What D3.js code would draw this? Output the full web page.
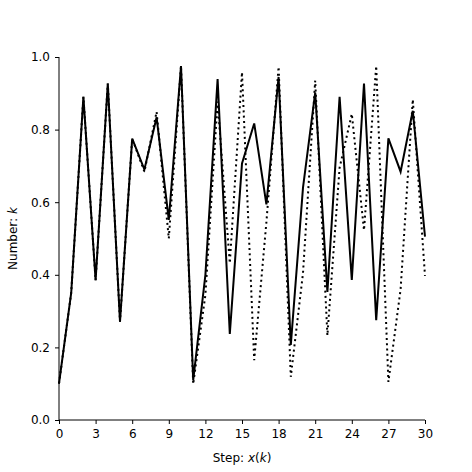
<!DOCTYPE html>
<html>
<head>
<meta charset="utf-8">
<script src="https://cdn.jsdelivr.net/npm/d3@7"></script>
<style>
  body { margin: 0; background: #fff; }
  svg { display: block; }
  text { font-family: "DejaVu Sans", sans-serif; fill: #000; }
</style>
</head>
<body>
<div id="chart"></div>
<script>
// step index 0..30
var steps = d3.range(0, 31);

// value
var solidSeries = [0.10, 0.35, 0.89, 0.385, 0.927, 0.271, 0.775, 0.69, 0.834, 0.551,
                   0.975, 0.11, 0.40, 0.939, 0.237, 0.707, 0.817, 0.594, 0.945, 0.207,
                   0.64, 0.902, 0.353, 0.89, 0.386, 0.927, 0.275, 0.776, 0.684, 0.852,
                   0.505];

// value
var dottedSeries = [0.10, 0.35, 0.89, 0.385, 0.927, 0.271, 0.775, 0.684, 0.849, 0.50,
                    0.975, 0.099, 0.345, 0.877, 0.432, 0.958, 0.165, 0.545, 0.973, 0.119,
                    0.405, 0.935, 0.233, 0.695, 0.843, 0.523, 0.975, 0.105, 0.36, 0.883,
                    0.397];

var xTicks = [0, 3, 6, 9, 12, 15, 18, 21, 24, 27, 30];
var yTicks = [0.0, 0.2, 0.4, 0.6, 0.8, 1.0];

var W = 472, H = 472;
var margin = {left: 59, right: 47, top: 57, bottom: 52};

var svg = d3.select("#chart").append("svg")
    .attr("width", W)
    .attr("height", H);

var x = d3.scaleLinear()
    .domain([0, 30])
    .range([margin.left, W - margin.right]);

var y = d3.scaleLinear()
    .domain([0, 1])
    .range([H - margin.bottom, margin.top]);

// axes, matplotlib style (only left and bottom spines)
var xAxis = svg.append("g")
    .attr("transform", "translate(0," + (H - margin.bottom) + ")")
    .call(d3.axisBottom(x).tickValues(xTicks).tickSize(4).tickPadding(5)
          .tickFormat(d3.format("d")));

var yAxis = svg.append("g")
    .attr("transform", "translate(" + margin.left + ",0)")
    .call(d3.axisLeft(y).tickValues(yTicks).tickSize(4).tickPadding(5)
          .tickFormat(d3.format(".1f")));

[xAxis, yAxis].forEach(function(g) {
    g.selectAll("path.domain").attr("stroke", "#000").attr("stroke-width", 1);
    g.selectAll(".tick line").attr("stroke", "#000").attr("stroke-width", 1);
    g.selectAll(".tick text").style("font-size", "12px")
        .style("font-family", "'DejaVu Sans', sans-serif").attr("fill", "#000");
});

// plain spines without the outer tick ends
xAxis.select("path.domain").attr("d", "M" + x(0) + ",0H" + x(30));
yAxis.select("path.domain").attr("d", "M0," + y(0) + "V" + y(1));

var line = d3.line()
    .x(function(d, i) { return x(steps[i]); })
    .y(function(d) { return y(d); });

svg.append("path")
    .datum(solidSeries)
    .attr("d", line)
    .attr("fill", "none")
    .attr("stroke", "#000")
    .attr("stroke-width", 2)
    .attr("stroke-linejoin", "miter");

svg.append("path")
    .datum(dottedSeries)
    .attr("d", line)
    .attr("fill", "none")
    .attr("stroke", "#000")
    .attr("stroke-width", 2)
    .attr("stroke-dasharray", "2,3.3");

// axis labels
var xl = svg.append("text")
    .attr("x", (x(0) + x(30)) / 2)
    .attr("y", 462)
    .attr("text-anchor", "middle")
    .style("font-size", "12px");
xl.append("tspan").text("Step: ");
xl.append("tspan").style("font-style", "italic").text("x");
xl.append("tspan").text("(");
xl.append("tspan").style("font-style", "italic").text("k");
xl.append("tspan").text(")");

var yl = svg.append("text")
    .attr("transform", "translate(17," + (y(0) + y(1)) / 2 + ") rotate(-90)")
    .attr("text-anchor", "middle")
    .style("font-size", "12px");
yl.append("tspan").text("Number: ");
yl.append("tspan").style("font-style", "italic").text("k");
</script>
</body>
</html>
